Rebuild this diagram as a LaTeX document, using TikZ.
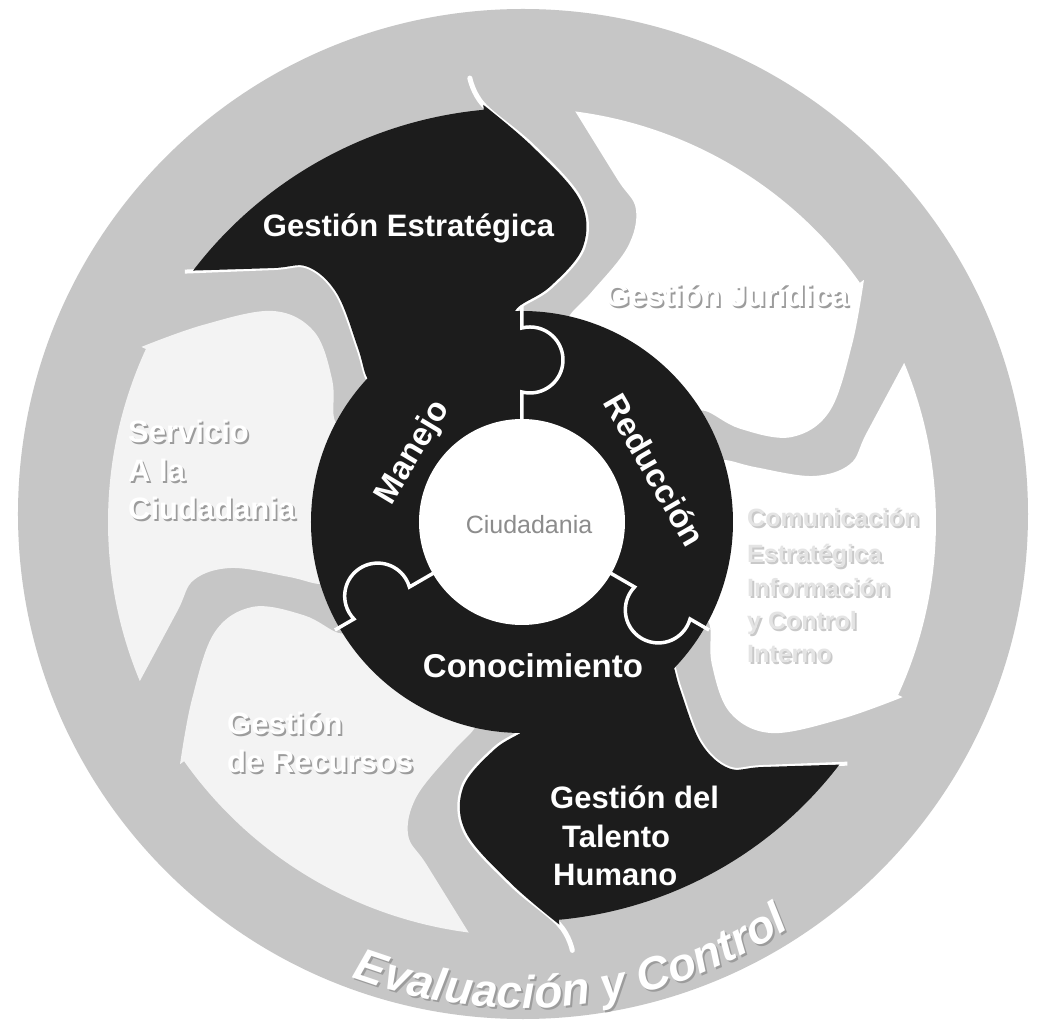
\documentclass[tikz,border=0pt]{standalone}
\usepackage{fontspec}
\setmainfont{Liberation Sans}
\usetikzlibrary{decorations.text}
\definecolor{bgray}{HTML}{C6C6C6}
\definecolor{ink}{HTML}{1C1C1C}
\definecolor{shad}{HTML}{9C9C9C}
\definecolor{paler}{HTML}{F3F3F3}
\definecolor{faintt}{HTML}{E4E4E4}
\definecolor{faints}{HTML}{C9C9C9}
\definecolor{midgray}{HTML}{8C8C8C}

\newcommand\bladefill[3]{% rotation, colour, scale
  \begin{scope}[rotate=#1, scale=#3]
    \fill[#2] plot[smooth,tension=0.6] coordinates {(95.3:419) (88.3:375) (79.8:327) (77.5:282) (83.2:237) (91.3:214) (93:195)}
      -- (137:195)
      -- plot[smooth,tension=0.6] coordinates {(137:195) (137:212) (133.2:240) (129:294) (130:333) (134.5:356) (142.6:414)}
      arc[start angle=142.6, end angle=95.3, radius=414] -- cycle;
  \end{scope}}
\newcommand\bladeedge[2]{% rotation, scale
  \begin{scope}[rotate=#1, scale=#2]
    \draw[white, line width=5pt, line cap=round] plot[smooth,tension=0.6] coordinates {(96.7:447) (95.3:419) (88.3:375) (79.8:327) (77.5:282) (83.2:237) (91.3:214) (93:195)};
    \draw[white, line width=4pt] plot[smooth,tension=0.6] coordinates {(137:200) (137:212) (133.2:240) (129:294) (130:333) (134.5:356) (143.4:420)};
  \end{scope}}
\newcommand\puzzlegap[1]{%
  \begin{scope}[rotate=#1]
    \draw[gapline] (0,100) -- (0,130) arc[start angle=256, end angle=464, radius=33] -- (0,216);
  \end{scope}}
\newcommand\embtext[5]{% name, anchor, x,y, text, style
  \node[#5sh, anchor=#2] (#1s) at ([shift={(1.8,-1.8)}]#3) {#4};
  \node[#5, anchor=#2] (#1) at (#3) {#4};}

\begin{document}
\begin{tikzpicture}[x=1pt,y=1pt,
  darklbl/.style={text=white, font=\bfseries\fontsize{31}{31}\selectfont, inner sep=0pt},
  emb/.style={text=white, font=\bfseries\fontsize{31}{31}\selectfont, inner sep=0pt},
  embsh/.style={text=shad, font=\bfseries\fontsize{31}{31}\selectfont, inner sep=0pt},
  fnt/.style={text=faintt, font=\bfseries\fontsize{25}{25}\selectfont, inner sep=0pt},
  fntsh/.style={text=faints, font=\bfseries\fontsize{25}{25}\selectfont, inner sep=0pt},
  ringlbl/.style={text=white, font=\bfseries\fontsize{33}{33}\selectfont, inner sep=0pt},
  gapline/.style={draw=white, line width=3.5pt},
  ]
\useasboundingbox (-522,-514) rectangle (515,522);
\fill[white] (-522,-514) rectangle (515,522);
% big gray disc
\fill[bgray] (1,8) circle (505);
% white blades
\bladefill{-60}{white}{1}
\bladefill{-120}{white}{1}
\bladefill{-240}{paler}{1}
\bladefill{-300}{paler}{1}
% dark blades
\bladeedge{0}{1}
\bladeedge{-180}{0.965}
\bladefill{0}{ink}{1}
\bladefill{-180}{ink}{0.965}
% ring
\fill[ink] (0,0) circle (211);
\fill[white] (0,0) circle (103);
\puzzlegap{0}
\puzzlegap{-120}
\puzzlegap{-240}
% ring labels
\node[ringlbl, rotate=59] (manejo) at (-109,69) {Manejo};
\node[ringlbl, rotate=-60] (reduccion) at (133,52) {Reducción};
\node[ringlbl, anchor=base] (conoc) at (11,-156) {Conocimiento};
\node[text=midgray, font=\fontsize{25}{25}\selectfont, inner sep=0pt] (ciud) at (7,-3) {Ciudadania};
% blade labels
\node[darklbl, anchor=base] (gestrat) at (-113.5,285) {Gestión Estratégica};
\embtext{gjur}{base}{205,215}{Gestión Jurídica}{emb}
\embtext{serv1}{base west}{-394,79}{Servicio}{emb}
\embtext{serv2}{base west}{-394,40}{A la}{emb}
\embtext{serv3}{base west}{-394,2}{Ciudadania}{emb}
\embtext{recu1}{base west}{-295,-213}{Gestión}{emb}
\embtext{recu2}{base west}{-295,-251}{de Recursos}{emb}
\node[darklbl, anchor=base west] (tal1) at (28,-286) {Gestión del};
\node[darklbl, anchor=base west] (tal2) at (40,-325) {Talento};
\node[darklbl, anchor=base west] (tal3) at (31,-363) {Humano};
\embtext{com1}{base west}{225,-5}{Comunicación}{fnt}
\embtext{com2}{base west}{225,-41}{Estratégica}{fnt}
\embtext{com3}{base west}{225,-75}{Información}{fnt}
\embtext{com4}{base west}{225,-108}{y Control}{fnt}
\embtext{com5}{base west}{225,-141}{Interno}{fnt}
% curved bottom title
\path[decorate, decoration={text along path, text align=center, text format delimiters={|}{|},
  text={|\color{shad}\bfseries\itshape\fontsize{46}{46}\selectfont|Evaluación y Control}}]
  (2,-2) ++(228:486) arc[start angle=228, end angle=325, radius=486];
\path[decorate, decoration={text along path, text align=center, text format delimiters={|}{|},
  text={|\color{white}\bfseries\itshape\fontsize{46}{46}\selectfont|Evaluación y Control}}]
  (0,0) ++(228:486) arc[start angle=228, end angle=325, radius=486];
\end{tikzpicture}
\end{document}
